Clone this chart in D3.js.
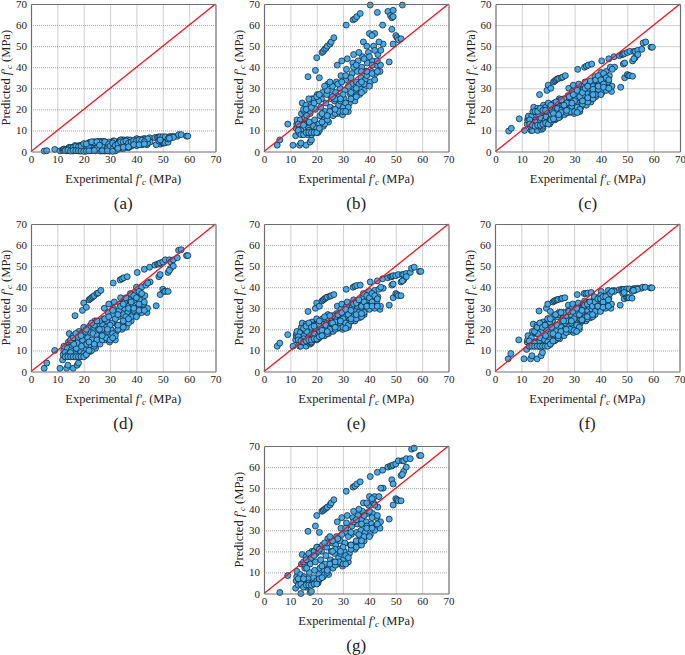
<!DOCTYPE html>
<html>
<head>
<meta charset="utf-8">
<script src="https://cdn.jsdelivr.net/npm/d3@7"></script>
<style>
body { margin: 0; background: #fff; }
svg { display: block; }
text { font-family: "Liberation Serif", serif; fill: #222; }
.grid line { stroke: #777; stroke-width: 0.7; stroke-dasharray: 1 1; }
.axis path, .axis line { stroke: #6e6e6e; stroke-width: 1.2; }
.axis text { font-size: 11px; font-family: "Liberation Serif", serif; }
.label { font-size: 12.5px; }
.caption { font-size: 17px; }
</style>
</head>
<body>
<div id="graphic"></div>
<script>
// values, same experimental strengths in every panel
var xExp = [
  5,6,9,11,13.5,14,16,17.5,18,
  16.7,19.5,20,21,22,22.5,23,23.5,24,25,25.5,26.5,31.2,33.8,34.5,35.2,36.5,40.3,43,
  45,47,48,48.5,49,50,51,52.5,53,54,55.5,56,57,59,59.5,
  49,50,50.5,51,52,47.5,
  45.2,48.5,49,52,53,54,52.5,
  12,12.2,12.4,12.5,13.2,13.5,13.8,14.2,14.5,14.8,
  15.2,15.5,15.8,16,16.5,16.8,17.2,17.5,17.8,18.2,
  18.5,18.8,19.2,19.5,19.8,20.2,20.5,20.8,21.2,21.5,
  21.8,22.2,22.5,22.8,23.2,23.5,23.8,24.2,24.5,24.8,
  25.2,25.5,25.8,26.2,26.5,26.8,27.2,27.5,27.8,28,
  28.3,28.6,28.9,29.2,29.5,29.8,30.1,30.4,30.7,31,
  31.3,31.6,32,32.4,32.8,33.1,33.4,33.7,34,34.5,
  34.8,35.1,35.4,35.7,36.2,36.5,36.8,37.1,37.4,37.7,
  38,38.4,38.8,39.2,39.6,40,40.4,40.8,41.2,41.6,
  42,42.4,42.8,43.2,43.6,44,44.2,44.3,
  13,14,15,15.3,16.2,17,18,19,20,20.7,
  21,22,23,24,24,25,26,27,27,28,
  28.5,29,29.5,30,30,31,31,32,32,33,
  33,34,34,35,35,36,36,37,37,38,
  38,39,39,40,40,41,41,42,42,43,
  15,16,17,18,19,20,21,23,25,26,
  13,14,15,16,17,18,19,20,21,22,
  24,27,29,31,33,35,37,39,41,43
];
var predA = [
  0.2,0.4,1,0.3,0.3,0.5,0.3,0.5,0.5,
  2.8,3,3.5,3,4.2,4.3,4.4,4.5,4.5,4.6,4.7,4.8,5,5.3,5.5,5.5,5.6,6,6.2,
  6.5,6.6,6.8,6.8,7,7,7,7,7,7.2,7.2,8,8,7.3,7.3,
  3.5,4,4,4.2,4.4,3.2,
  4.5,5,5.5,6,6.5,6.7,6.3,
  0.5,0.8,1,1.2,0.6,0.8,1.2,1.5,2,0.7,
  1,1.4,1.8,2,0.5,0.9,1.3,1.8,2.3,2.8,
  0.3,0.8,1.4,2.2,3,3.5,0.2,0.8,1.5,2.4,
  3.2,4,0.4,1,2,3,4,4.5,0.3,1,
  2,3.2,4.2,0.2,1,2.4,3.5,4.5,4.8,0.2,
  1,2.2,3.2,4,4.5,0.3,1,2,3,3.8,
  4.6,5,0.5,1.5,2.6,3.6,4.4,5,5.5,1.5,
  2.5,3.5,4.3,5,2,3,3.8,4.5,5.2,5.5,
  2.5,3.5,4.2,4.8,5.3,6,3,3.8,4.6,5.2,
  5.8,3.5,4.4,5,5.8,3.2,4,6,
  0.9,0.6,1,1.5,1.4,0.6,0.5,2.8,0.5,2.8,
  0.3,1.8,0.5,4.2,0.7,1.5,4.5,0.4,2.8,4.6,
  0.5,1.5,3.5,0.2,2.5,1.2,4,0.3,3,1,
  3.5,1.8,4.6,1.3,4.6,2.6,5,1.8,4,3,
  4.5,4,5.2,2.8,5,4.2,5.5,3.2,5.3,4.6,
  1.7,1.9,2.5,2.2,2.5,3.7,3.6,4.6,4.6,3,
  0.5,0.7,0.2,0.5,0.4,0.3,0.2,0.1,0.2,0.3,
  0.5,0.3,0.3,0.1,1.5,2,2.2,3.3,3.2,3.6
];
var predB = [
  3,5.5,13,3,3,4,3,4.5,5.5,
  35.5,38.5,44.5,35,47,47.5,48.5,49,50,51,52,54,60,62.5,63,64,65.5,69.5,66,
  60,66.5,64.5,63.5,67,null,null,69.5,null,null,null,null,null,null,null,
  51,55,54,53,53.5,42.5,
  51,58,64,null,null,null,null,
  7.5,11,13,15,9,11,15,18,23,9,
  13,16,19,22,8,11,14,18,22,25,
  9,12,15,20,24,27,9,13,17,21,
  25,28,12,15,19,23,27,32,14,18,
  21,25,29,17,20,24,28,33,41,18,
  22,26,30,36,43,17.5,21,25,29,34,
  39,44,19,23,27,32,37,42,46,24,
  28,33,38,43,27,30,35,40,45,52,
  29,34,38,42,47,56,33,38,43,50,
  56,37,41,46,52,38,41,48,
  13,10,12.5,19,17,10,8,25,11,24,
  10,18,13,29,15,19,31,18,25,32,
  19,24,33,19,27,23,36,21,31,25,
  35,29,40,26,41,32,47,28,38,32,
  44,36,50,31,45,41,55,34,48,43,
  20,20,25,21,23,26,27,31,33,26,
  10,8,8,9,9,9,9,9,11,14,
  17,20,25,19,28,30,33,38,37,38
];
var predC = [
  9.7,11,15.5,10,10,10,10,10.5,11,
  27,29,31.5,30,33,33.5,34,34.5,34.7,35,35.3,36,39,40,40.5,41,41.5,43,44,
  45,45.5,46,46.2,46.5,47,47.5,47.5,47.5,48,48.5,51.5,52,49.5,49.5,
  35,36.5,36,36,35.7,30.5,
  40,41.5,42,43,44.5,46,44,
  13,15,16,16.8,12,13.5,17,19,21,12.5,
  15,17.5,19.5,20.5,12,14,16,18.5,20.5,22,
  13,15,16.5,19,21,22.5,13,15.5,17.5,19.5,
  21.5,23,15,16.5,18.5,20.5,23,25,16.5,18,
  20,22,24,17.5,19.5,21.5,24,26.5,30,18.5,
  20.5,23,25.5,28.5,31.5,18,20,22.5,25,27.5,
  30,32,19,21,24,26.5,29.5,31.5,33,22,
  25,27.5,30,32,23.5,25,28,31,33.5,35.5,
  26,28.5,31,33.5,36,37.5,28,31,34,36,
  38,30,33,36,40,28.5,31,39,
  15,12.5,14,19,18,12.5,12,21,14,21,
  14,18,15.5,24,16,18.5,25,18.5,23,26,
  19,21.5,27,19,24,21,29,20,26,22.5,
  28,24,30,23.5,31,26,33.5,25,29.5,27,
  34,29.5,36,27,34,32,37,29,35,34,
  19,19,20.5,19.5,19.5,23,22,23.5,24.5,22,
  13,12.5,12,12.5,12.5,13,13.5,13,15,15.5,
  17.5,19.5,23,18.5,24,25.5,27,31,30.5,30
];
var predD = [
  1.5,4,10,1.5,1.5,3,1.5,3,4,
  26.5,29,32.5,30.5,34,34.5,35,35.5,36,37,37.3,38.5,42,43.5,44,44.5,45,47,48.5,
  49.5,50.5,51,51,51.5,52,53,53,52,53,54,57.5,57.8,55,55,
  36.5,39,38,38,38,31.2,
  42.5,45,46,47,49,50,48,
  5.5,8,10,12,7,8.5,11,14,18,7,
  10,12.5,15,17,7,9,11,13.5,17,19,
  7,9,12,15,18,20.5,7.5,10,13,16,
  19,21.5,9.5,12,15,18,21,24,11,14,
  17,20,22.5,13,16,19,22,25,30,15,
  18,21,24,28,32,14,17,20,23,27,
  30,33,15,19,22,26,29,32,35,20,
  23,27,30,33,21,24,28,31,34,37,
  24,27,31,34,37,40,27,30,34,37,
  40,29,32,36,41,28,30,42,
  9,8,9,14,13,8,7,18,8.5,19,
  8,14,10,22,12,15,24,15,20,25,
  16,19,26,15,22,18,29,17,25,20,
  27,22,31,21,32,26,35,23,30,26,
  33,29,36,26,35,32,38,28,37,33,
  15,16,18,16.5,17,21,20,23,24,20,
  7,7,7,7,7,7,7,7,8,10,
  13,17,20,16,22,24,25,30,29,29
];
var predE = [
  12,13.5,17.5,12,12,12,12,13,13.5,
  28.5,30,32.5,31,33.5,34,34.5,35,35.3,35.7,36,36.5,39,40,40.5,40.8,41,42.5,43,
  44,44.5,45,45,45.5,45.5,46,46,46,46.5,47,49,49.5,47.5,47.5,
  35,37,36.5,36,36,31.5,
  39.5,41,41.5,42.5,43.5,45,43,
  15,17,18,19,14,15.5,18.5,21,23,14,
  17,19.5,21,22.5,14,16,18,20,22,23.5,
  15,16.5,18,20.5,22.5,24.5,15.5,17.5,19,21,
  23,25,17,18,20,22,24.5,27,18,19.5,
  21,23,25.5,19,20.5,22.5,25,27.5,31,20.5,
  22,24,26.5,29.5,32,20,22,24,26,28.5,
  31,33,21,23,25.5,28,30.5,32.5,34,24,
  26.5,29,31,33,25.5,27,30,32,35,37,
  27,29.5,32,34,36,38,30,32,34.5,36.5,
  38.5,31,33.5,35.5,39,29.5,31,40,
  16.5,14.5,15.5,20,19,14.5,14,22,15,22.5,
  16,19.5,17,25.5,18,20,26.5,20,23.5,27,
  21,23,28,21,25,23,29.5,22,27,24,
  29,26,32,25,32.5,28,34,26,31,28,
  33,31,36,29.5,35,33,37,30,36,34.5,
  20.5,21.5,23,21,21.5,25,24,26,26.5,23,
  15,14.5,14,14.5,15,15,15.5,15.5,16.5,17,
  19,21,24,20.5,25,27,27.5,31,31,31
];
var predF = [
  6,8.5,15,6,6,7.5,6,7.5,9,
  28.7,30,32,28.5,33,33.5,33.8,34,34.2,34.5,34.7,35,36.5,37,37,37.2,37.5,38,38.5,
  38.5,38.7,39,39,39,39.2,39.2,39.3,39.3,39.5,39.5,40,40,39.7,39.7,
  34.5,35,35,35,34.8,31.5,
  38,37,37.5,38,38.5,39,38.5,
  10.5,14,15,17,12,13.5,16,19,22.5,12,
  14,18,20.5,22,12,14,16,19,21.5,23.5,
  13,15,17,20,23,25,12.5,15,18,21,
  24,26,14.5,16,19,22,26,28,15.5,18,
  21,24,27,17,20,23,26,28.5,31.5,19,
  21.5,24.5,27,30,32,18.5,21,24,26.5,29,
  31,32.5,20,23,25.5,28,30.5,32,33.5,24,
  26.5,29,31,33,25.5,27,29.5,32,34,35.5,
  27,29.5,32,33.5,35,36,29.5,32,34,35.5,
  36,31,33,35,37,30,32,38,
  14.5,12.5,13.5,18.5,18,12,12,22,14,23.5,
  13,18,15,27,16,19,28,18.5,24,28.5,
  20,23,28.5,19.5,25,22,30,21,27,24,
  29,25.5,31.5,25,32,27,33,26,31,28.5,
  33,31,34.5,28.5,34.5,33,35.5,30,35.5,34,
  19,21,23,21,22,25,25,27,28,24,
  12,12,12,12,12,12,12,12,13,14.5,
  17,20,24,19,24.5,26,27,31,30.5,31
];
var predG = [
  null,0.5,8.5,null,null,0,3,0.5,1,
  29.5,32,37,29,39,39.5,40,40.5,41,42,43,44.5,48.5,50.5,51,52,53,55.5,57.5,
  58.5,60,60.5,60.5,61,61.5,63,63,63,64,64,68.5,69,65.5,65.5,
  42,45,44.5,44,44,35.3,
  50,54,52,56,58,60,56.5,
  2.5,6,8,10.5,4.5,6,9,14,18.5,5,
  8,12,15,17.5,4,7,10,14,18,20,
  4.5,7.5,11,15,19,22,5,9,12,16,
  20,23,8,11,14,18,22,26,9,12.5,
  16,20,24,12,15,19,23,27,34,14,
  17,21,25,31,36,13,16,20,24,29,
  33.5,37,15,19,23,28,32,36,39,21,
  24,29,33,37,23,26,30,35,39,43,
  25,29,34,38,42,46,28,33,38,43,
  46,32,36,41,46,31,34,50,
  7,4,7,14,12,5,4.5,20,6,20,
  6.5,13,9,24,10,14,25,13.5,21,26,
  15,19,28,14,22,18,31,17,27,21,
  29,23,34,22,35,28,40,23,33,27,
  37,32,43,27,39,36,45,30,42,37,
  15,16,19,17,18,22,21,24,27,20,
  4,4.5,3,4,4,4,4.5,4.5,7,7.5,
  11,15,20,14,23,25,25,31,31,33
];
var tickValues = [0, 10, 20, 30, 40, 50, 60, 70];
var captions = ["(a)", "(b)", "(c)", "(d)", "(e)", "(f)", "(g)"];
var allPred = [predA, predB, predC, predD, predE, predF, predG];

// where each panel sits on the page
var panelLeft = [31, 264, 495.5, 31, 264, 495, 264];
var panelTop = [4, 4, 4, 224, 224, 224, 446];
var size = 184.5;
var sizeY = 147.5;

var svg = d3.select("#graphic")
    .append("svg")
    .attr("width", 685)
    .attr("height", 655);

var x = d3.scaleLinear().domain([0, 70]).range([0, size]);
var y = d3.scaleLinear().domain([0, 70]).range([sizeY, 0]);

function addLabel(sel, first) {
    sel.append("tspan").text(first);
    sel.append("tspan").attr("font-style", "italic").text("f\u2032");
    sel.append("tspan").attr("font-style", "italic").attr("font-size", "9px").attr("dy", 2).text("c");
    sel.append("tspan").attr("dy", -2).text(" (MPa)");
}

allPred.forEach(function(pred, i) {
    var g = svg.append("g")
        .attr("transform", "translate(" + panelLeft[i] + "," + panelTop[i] + ")");

    // dotted grid
    g.append("g").attr("class", "grid")
        .attr("transform", "translate(0," + sizeY + ")")
        .call(d3.axisBottom(x).tickValues(tickValues.slice(1, -1)).tickSize(-sizeY).tickFormat(""))
        .select(".domain").remove();
    g.append("g").attr("class", "grid")
        .call(d3.axisLeft(y).tickValues(tickValues.slice(1, -1)).tickSize(-size).tickFormat(""))
        .select(".domain").remove();

    var points = xExp.map(function(d, j) {
        return { x: d, y: pred[j] };
    }).filter(function(d) { return d.y !== null && d.y !== undefined; });

    g.selectAll("circle")
        .data(points)
        .enter().append("circle")
        .attr("cx", function(d) { return x(d.x); })
        .attr("cy", function(d) { return y(d.y); })
        .attr("r", 3)
        .attr("fill", "#45abea")
        .attr("stroke", "#14222e")
        .attr("stroke-width", 0.75);

    // 1:1 line
    g.append("line")
        .attr("x1", x(0)).attr("y1", y(0))
        .attr("x2", x(70)).attr("y2", y(70))
        .attr("stroke", "#f0141e")
        .attr("stroke-width", 1.3);

    g.append("g").attr("class", "axis")
        .attr("transform", "translate(0," + sizeY + ")")
        .call(d3.axisBottom(x).tickValues(tickValues).tickSizeOuter(0).tickSizeInner(0).tickPadding(4));
    g.append("g").attr("class", "axis")
        .call(d3.axisLeft(y).tickValues(tickValues).tickSizeOuter(0).tickSizeInner(0).tickPadding(4));
    g.append("g").attr("class", "axis")
        .call(d3.axisTop(x).tickValues(tickValues).tickSizeOuter(0).tickSizeInner(0).tickFormat(""));
    g.append("g").attr("class", "axis")
        .attr("transform", "translate(" + size + ",0)")
        .call(d3.axisRight(y).tickValues(tickValues).tickSizeOuter(0).tickSizeInner(0).tickFormat(""));

    g.append("text").attr("class", "label")
        .attr("x", size / 2).attr("y", sizeY + 31)
        .attr("text-anchor", "middle")
        .call(addLabel, "Experimental ");
    g.append("text").attr("class", "label")
        .attr("transform", "translate(-21," + (sizeY / 2) + ") rotate(-90)")
        .attr("text-anchor", "middle")
        .call(addLabel, "Predicted ");
    g.append("text").attr("class", "caption")
        .attr("x", size / 2).attr("y", sizeY + 57)
        .attr("text-anchor", "middle")
        .text(captions[i]);
});
</script>
</body>
</html>
